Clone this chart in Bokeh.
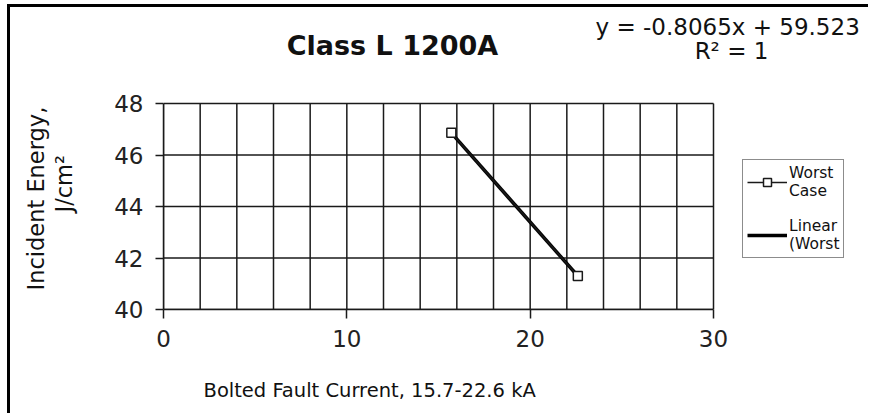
import math
import numpy as np
from bokeh.plotting import figure
from bokeh.models import Range1d, FixedTicker, Label, Legend, LegendItem, Title
from bokeh.embed import file_html
from bokeh.resources import INLINE

# ---- data ----
fault_current = [15.7, 22.6]          # kA
incident_energy = [46.86, 41.30]      # J/cm2
x_ticks = [0, 10, 20, 30]
y_ticks = [40, 42, 44, 46, 48]
x_grid = list(range(0, 31, 2))
title_text = "Class L 1200A"
eq_text = "y = -0.8065x + 59.523"
r2_text = "R² = 1"
x_title = "Bolted Fault Current, 15.7-22.6 kA"
y_title_1 = "Incident Energy,"
y_title_2 = "J/cm²"
series_name = "Worst\nCase"
trend_name = "Linear\n(Worst"

FONT = "DejaVu Sans"
INK = "#1a1a1a"

X0, X1, Y0, Y1 = 0, 30, 40, 48
PX_X = 550 / 30.0      # pixels per kA
PX_Y = 206 / 8.0       # pixels per J/cm2

p = figure(width=861, height=409, output_backend="svg", toolbar_location=None,
           x_range=Range1d(X0, X1 + 158 / PX_X), y_range=Range1d(Y0, Y1 + 96 / PX_Y),
           min_border_left=153, min_border_right=0, min_border_top=0, min_border_bottom=107)
p.background_fill_color = "white"
p.border_fill_color = "white"
p.outline_line_color = None
p.styles = {"margin-left": "7px", "margin-top": "4px",
            "border-left": "3px solid black", "border-top": "3px solid black"}
p.xgrid.visible = False
p.ygrid.visible = False

# axes
for ax in (p.xaxis[0], p.yaxis[0]):
    ax.axis_line_color = INK
    ax.axis_line_width = 1.5
    ax.major_tick_line_color = INK
    ax.major_tick_line_width = 1.5
    ax.major_tick_in = 0
    ax.minor_tick_line_color = None
    ax.major_label_text_font = FONT
    ax.major_label_text_font_size = "23px"
    ax.major_label_text_color = "#222222"
p.xaxis.ticker = FixedTicker(ticks=x_ticks)
p.yaxis.ticker = FixedTicker(ticks=y_ticks)
p.xaxis.bounds = (X0, X1)
p.yaxis.bounds = (Y0, Y1)
p.xaxis.major_tick_out = 9
p.yaxis.major_tick_out = 8
p.xaxis.major_label_standoff = 11
p.yaxis.major_label_standoff = 12

# grid lines of the plot area, at the tick positions
p.segment(x0=x_grid, x1=x_grid, y0=[Y0] * len(x_grid), y1=[Y1] * len(x_grid),
          line_color=INK, line_width=1.5)
p.segment(x0=[X0] * len(y_ticks), x1=[X1] * len(y_ticks), y0=y_ticks, y1=y_ticks,
          line_color=INK, line_width=1.5)

# trend line computed from the data
slope, intercept = np.polyfit(fault_current, incident_energy, 1)
tx = [min(fault_current), max(fault_current)]
ty = [slope * v + intercept for v in tx]
trend = p.line(tx, ty, line_color="black", line_width=3.5)

series_line = p.line(fault_current, incident_energy, line_color=INK, line_width=1.5)
series_pts = p.scatter(fault_current, incident_energy, marker="square", size=9,
                       fill_color="white", line_color=INK, line_width=1.5)

legend = Legend(items=[LegendItem(label=series_name, renderers=[series_line, series_pts]),
                       LegendItem(label=trend_name, renderers=[trend])],
                location=(579, 51))
legend.label_text_font = FONT
legend.label_text_font_size = "15.5px"
legend.label_text_color = "#111111"
legend.border_line_color = INK
legend.border_line_width = 1.5
legend.background_fill_color = "white"
legend.background_fill_alpha = 1.0
legend.glyph_width = 40
legend.glyph_height = 20
legend.spacing = 17
legend.padding = 4
legend.margin = 0
legend.label_standoff = 2
p.add_layout(legend, "center")

def lab(x, y, text, size, align="left", bold=False):
    p.add_layout(Label(x=x, y=y, text=text, text_font=FONT, text_font_size=size,
                       text_align=align, text_baseline="alphabetic",
                       text_color="#111111",
                       text_font_style="bold" if bold else "normal"))

lab((392 - 163) / PX_X, Y1 + (103 - 45) / PX_Y, title_text, "27px", align="center", bold=True)
lab((595 - 163) / PX_X, Y1 + (103 - 26) / PX_Y, eq_text, "23px")
lab((731 - 163) / PX_X, Y1 + (103 - 50) / PX_Y, r2_text, "23px", align="center")

# axis titles in the side panels, with blank spacers between axis and title
def side_title(text, side, size, offset, bold=False):
    t = Title(text=text, align="left", offset=offset, standoff=0, vertical_align="bottom",
              text_font=FONT, text_font_size=size, text_color="#111111",
              text_font_style="bold" if bold else "normal")
    p.add_layout(t, side)

side_title(" ", "below", "22px", 0)
side_title(x_title, "below", "19.5px", 203 - 163)

side_title(" ", "left", "28px", 0)
side_title(y_title_2, "left", "22.5px", 309 - 212)
side_title(y_title_1, "left", "22.5px", 309 - 290)

open("out.html", "w").write(file_html(p, INLINE))
